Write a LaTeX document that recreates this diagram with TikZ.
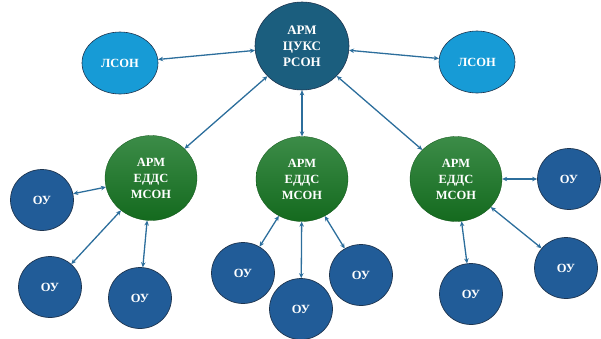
\documentclass[tikz,border=0pt]{standalone}
\usepackage{fontspec}
\setmainfont{Liberation Serif}
\usetikzlibrary{shapes.geometric,arrows.meta}
\definecolor{topc}{HTML}{1B5E7E}
\definecolor{lsonc}{HTML}{179BD6}
\definecolor{greentop}{HTML}{3C8C48}
\definecolor{greenbot}{HTML}{146A1E}
\definecolor{ouc}{HTML}{215C98}
\definecolor{edgec}{HTML}{1E3550}
\definecolor{arrc}{HTML}{2C6E9C}
\tikzset{
  base/.style={ellipse, inner sep=0pt, text=white, font=\bfseries, align=center},
  topnode/.style={base, fill=topc, draw=edgec, line width=0.6pt, minimum width=94pt, minimum height=88pt, font=\bfseries\fontsize{13}{16}\selectfont},
  lson/.style={base, fill=lsonc, draw=edgec, line width=0.6pt, minimum width=76pt, minimum height=62pt, font=\bfseries\fontsize{12.5}{14}\selectfont},
  edds/.style={base, top color=greentop, bottom color=greenbot, draw=greenbot!80!black, line width=0.3pt, minimum width=92pt, minimum height=85pt, font=\bfseries\fontsize{12.5}{16}\selectfont},
  ou/.style={base, fill=ouc, draw=edgec, line width=0.7pt, minimum width=63pt, minimum height=61pt, font=\bfseries\fontsize{12.5}{14}\selectfont},
  link/.style={draw=arrc, line width=1.3pt, {Stealth[length=5pt,width=4.5pt]}-{Stealth[length=5pt,width=4.5pt]}}
}
\begin{document}
\begin{tikzpicture}[x=1pt,y=-1pt]
\useasboundingbox (0,0) rectangle (601,338);
\node[topnode] (top) at (302,46) {АРМ\\ЦУКС\\РСОН};
\node[lson] (l1) at (120,63) {ЛСОН};
\node[lson] (l2) at (477,62) {ЛСОН};
\node[edds] (g1) at (151,178) {АРМ\\ЕДДС\\МСОН};
\node[edds] (g2) at (302,179) {АРМ\\ЕДДС\\МСОН};
\node[edds] (g3) at (456,179) {АРМ\\ЕДДС\\МСОН};
\node[ou] (o1) at (42,200) {ОУ};
\node[ou] (o2) at (50,287) {ОУ};
\node[ou] (o3) at (140,298) {ОУ};
\node[ou] (o4) at (243,273) {ОУ};
\node[ou] (o5) at (301,309) {ОУ};
\node[ou] (o6) at (361,275) {ОУ};
\node[ou] (o7) at (569,179) {ОУ};
\node[ou] (o8) at (566,268) {ОУ};
\node[ou] (o9) at (471,294) {ОУ};
\draw[link] (top) -- (l1);
\draw[link] (top) -- (l2);
\draw[link] (top) -- (g1);
\draw[link] (top) -- (g2);
\draw[link] (top) -- (g3);
\draw[link] (g1) -- (o1);
\draw[link] (g1) -- (o2);
\draw[link] (g1) -- (o3);
\draw[link] (g2) -- (o4);
\draw[link] (g2) -- (o5);
\draw[link] (g2) -- (o6);
\draw[link] (g3) -- (o7);
\draw[link] (g3) -- (o8);
\draw[link] (g3) -- (o9);
\end{tikzpicture}
\end{document}
